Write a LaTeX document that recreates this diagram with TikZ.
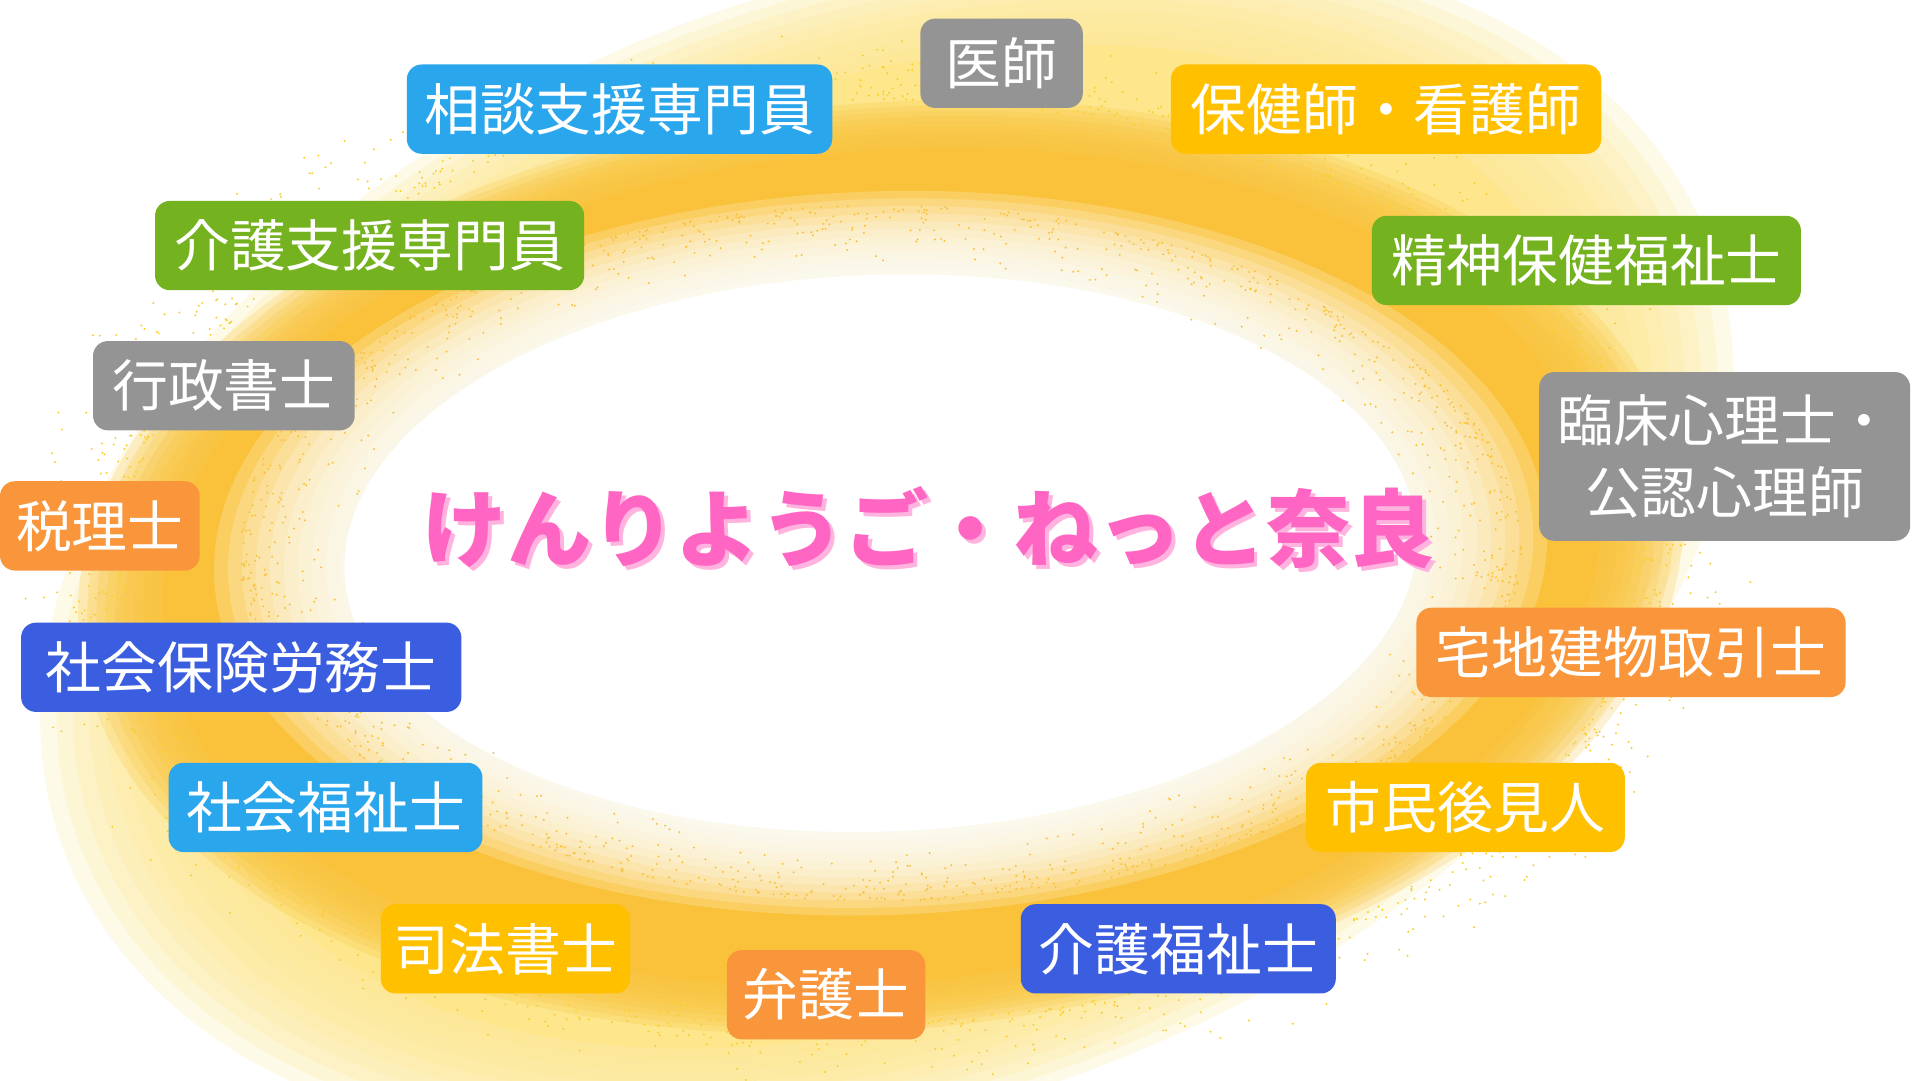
\documentclass[tikz,border=0pt]{standalone}
\usepackage{fontspec}
\setmainfont{Noto Sans CJK JP}
\definecolor{cgray}{HTML}{949494}
\definecolor{cblue}{HTML}{29A6EC}
\definecolor{cgold}{HTML}{FFC000}
\definecolor{cgreen}{HTML}{74B21F}
\definecolor{corange}{HTML}{F9963C}
\definecolor{croyal}{HTML}{3B5EE0}
\definecolor{cpink}{HTML}{FF66C4}
\definecolor{cpinkl}{HTML}{FFB3DE}
\definecolor{band}{HTML}{F9C23A}
\definecolor{bandl}{HTML}{FDE68C}
\tikzset{
  tag/.style={rounded corners=12pt, fill=#1, text=white, minimum height=72pt, inner sep=0pt,
    font=\fontsize{45}{58}\selectfont, align=center},
  titletext/.style={font=\fontsize{68}{80}\selectfont\bfseries},
}
\begin{document}
\begin{tikzpicture}[x=1pt,y=1pt]
\useasboundingbox (0,0) rectangle (1548,871);
\fill[white] (0,0) rectangle (1548,871);
% ---- ring background: soft-edged ellipses built from stacked translucent layers
% light yellow halo
\begin{scope}[shift={(715,430)}, rotate=20]
  \fill[bandl] (0,0) ellipse [x radius=0.86*680, y radius=0.86*435];
  \foreach \s in {0,...,9}{
    \fill[bandl, fill opacity=0.2] (0,0) ellipse [x radius={(0.86+0.02*\s)*680}, y radius={(0.86+0.02*\s)*435}];
  }
\end{scope}
% golden band
\begin{scope}[shift={(710,414)}, rotate=5]
  \fill[band] (0,0) ellipse [x radius=0.93*625, y radius=0.93*360];
  \foreach \s in {0,...,9}{
    \fill[band, fill opacity=0.22] (0,0) ellipse [x radius={(0.93+0.012*\s)*625}, y radius={(0.93+0.012*\s)*360}];
  }
\end{scope}
% grain on the outer edge of the band
\pgfmathsetseed{7}
\foreach \i in {1,...,1600}{
  \pgfmathsetmacro{\ang}{360*rnd}
  \pgfmathsetmacro{\rr}{0.97+0.17*rnd*rnd}
  \fill[band!80!yellow] ({710+\rr*628*cos(\ang)},{420+\rr*382*sin(\ang)}) circle (0.9);
}
% white centre
\begin{scope}[shift={(710,425)}, rotate=2]
  \foreach \s in {0,...,11}{
    \fill[white, fill opacity=0.2] (0,0) ellipse [x radius={(0.88+0.024*\s)*470}, y radius={(0.88+0.024*\s)*255}];
  }
  \fill[white] (0,0) ellipse [x radius=0.92*470, y radius=0.88*255];
\end{scope}
% grain on the inner edge
\foreach \i in {1,...,1400}{
  \pgfmathsetmacro{\ang}{360*rnd}
  \pgfmathsetmacro{\rr}{1.1-0.2*rnd*rnd}
  \fill[band] ({710+\rr*470*cos(\ang)},{425+\rr*255*sin(\ang)}) circle (0.9);
}
% ---- title
\node[text=cpinkl, titletext] at (752,442) {けんりようご・ねっと奈良};
\node (title) [text=cpink, titletext] at (749,446) {けんりようご・ねっと奈良};
% ---- tags
\node (ishi)  [tag=cgray,  minimum width=131pt] at (807.5,820) {医師};
\node (sodan) [tag=cblue,  minimum width=343pt] at (499.5,783) {相談支援専門員};
\node (hoken) [tag=cgold,  minimum width=347pt] at (1117.5,783) {保健師・看護師};
\node (kaigos)[tag=cgreen, minimum width=346pt] at (298,673) {介護支援専門員};
\node (seish) [tag=cgreen, minimum width=346pt] at (1279,661) {精神保健福祉士};
\node (gyos)  [tag=cgray,  minimum width=211pt] at (180.5,560) {行政書士};
\node (rinsho)[tag=cgray,  minimum width=299pt, minimum height=136pt] at (1390.5,503) {臨床心理士・\\公認心理師};
\node (zeiri) [tag=corange,minimum width=161pt] at (80.5,447) {税理士};
\node (takuchi)[tag=corange,minimum width=346pt] at (1315,345) {宅地建物取引士};
\node (shaho) [tag=croyal, minimum width=355pt] at (194.5,333) {社会保険労務士};
\node (shafuku)[tag=cblue, minimum width=253pt] at (262.5,220) {社会福祉士};
\node (shimin)[tag=cgold,  minimum width=257pt] at (1181.5,220) {市民後見人};
\node (shiho) [tag=cgold,  minimum width=201pt] at (407.5,106) {司法書士};
\node (bengo) [tag=corange,minimum width=160pt] at (666,69) {弁護士};
\node (kaifuku)[tag=croyal,minimum width=254pt] at (950,106) {介護福祉士};
\end{tikzpicture}
\end{document}
